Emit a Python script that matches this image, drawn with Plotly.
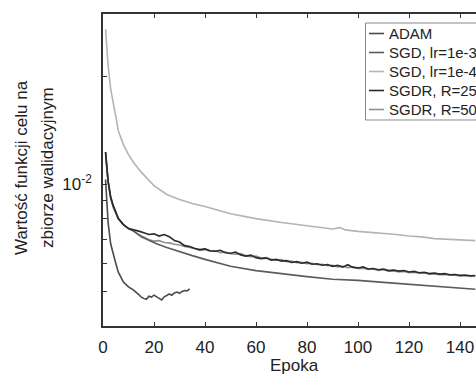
import plotly.graph_objects as go

# ---------------- data ----------------
adam_epoch = [1, 2, 3, 4, 5, 6, 7, 8, 10, 12, 14, 15, 16, 17, 18, 19, 20, 21, 22, 23,
              24, 25, 26, 27, 28, 29, 30, 31, 32, 33, 34]
adam_loss = [0.0103, 0.0078, 0.0068, 0.00632, 0.0060, 0.00566, 0.00545, 0.00531, 0.00515,
             0.00504, 0.00490, 0.00482, 0.00478, 0.00475, 0.00485, 0.00482, 0.00488, 0.00484,
             0.00478, 0.00473, 0.00483, 0.00487, 0.00492, 0.00488, 0.00495, 0.00498, 0.00494,
             0.00500, 0.00503, 0.00502, 0.00508]

sgd3_epoch = [1, 2, 3, 4, 6, 8, 10, 12, 15, 18, 21, 25, 30, 35, 40, 50, 60, 70, 80, 90,
              100, 110, 120, 130, 140, 146]
sgd3_loss = [0.0123, 0.0102, 0.0092, 0.0087, 0.0080, 0.0077, 0.0075, 0.00738, 0.00712,
             0.00695, 0.00680, 0.00664, 0.00646, 0.00630, 0.00615, 0.00588, 0.00572, 0.00560,
             0.00550, 0.00541, 0.00537, 0.00530, 0.00524, 0.00517, 0.00510, 0.00507]

sgd4_epoch = [1, 2, 3, 4, 5, 6, 8, 10, 12, 15, 20, 25, 30, 35, 40, 50, 60, 70, 80, 85,
              90, 93, 95, 100, 105, 110, 115, 120, 125, 130, 135, 140, 146]
sgd4_loss = [0.0272, 0.0215, 0.0185, 0.0167, 0.0155, 0.0141, 0.0129, 0.0121, 0.0115, 0.0108,
             0.00990, 0.00935, 0.00905, 0.00882, 0.00865, 0.00826, 0.00800, 0.00780, 0.00762,
             0.00756, 0.00748, 0.00755, 0.00744, 0.00737, 0.00733, 0.00726, 0.00722, 0.00715,
             0.00711, 0.00703, 0.00701, 0.00697, 0.00694]

sgdr_epoch = [1, 2, 3, 4, 6, 8, 10, 12, 14, 16, 18, 20, 22, 24, 26, 28, 30, 32, 34, 36,
              38, 40, 42, 44, 46, 48, 50, 52, 54, 56, 58, 60, 62, 64, 66, 68, 70, 72, 74,
              76, 78, 80, 82, 84, 86, 88, 90, 92, 94, 96, 98, 100, 102, 104, 106, 108, 110,
              112, 114, 116, 118, 120, 122, 124, 126, 128, 130, 132, 134, 136, 138, 140,
              142, 144, 146]
sgdr25_loss = [0.0123, 0.0102, 0.0092, 0.0087, 0.0080, 0.0077, 0.0075, 0.00745, 0.00738,
               0.00730, 0.00722, 0.00725, 0.00715, 0.00722, 0.00712, 0.00695, 0.00688,
               0.00672, 0.00668, 0.00660, 0.00655, 0.00658, 0.00650, 0.00648, 0.00652,
               0.00642, 0.00640, 0.00645, 0.00633, 0.00628, 0.00632, 0.00622, 0.00618,
               0.00620, 0.00612, 0.00615, 0.00608, 0.00610, 0.00603, 0.00606, 0.00600,
               0.00604, 0.00596, 0.00598, 0.00592, 0.00595, 0.00588, 0.00592, 0.00585,
               0.00594, 0.00584, 0.00582, 0.00586, 0.00578, 0.00580, 0.00575, 0.00578,
               0.00572, 0.00574, 0.00570, 0.00572, 0.00567, 0.00569, 0.00564, 0.00566,
               0.00561, 0.00563, 0.00559, 0.00561, 0.00557, 0.00558, 0.00555, 0.00556,
               0.00553, 0.00554]
sgdr50_loss = [0.0121, 0.0101, 0.0091, 0.0086, 0.0080, 0.0077, 0.0075, 0.00738, 0.00722,
               0.00708, 0.00698, 0.00692, 0.00694, 0.00686, 0.00684, 0.00678, 0.00675,
               0.00668, 0.00664, 0.00660, 0.00652, 0.00655, 0.00648, 0.00650, 0.00642,
               0.00645, 0.00638, 0.00636, 0.00638, 0.00630, 0.00626, 0.00628, 0.00620,
               0.00622, 0.00615, 0.00612, 0.00614, 0.00606, 0.00608, 0.00602, 0.00603,
               0.00598, 0.00600, 0.00594, 0.00596, 0.00590, 0.00592, 0.00586, 0.00588,
               0.00583, 0.00586, 0.00580, 0.00581, 0.00576, 0.00578, 0.00573, 0.00575,
               0.00570, 0.00571, 0.00567, 0.00569, 0.00564, 0.00566, 0.00562, 0.00563,
               0.00559, 0.00560, 0.00557, 0.00558, 0.00555, 0.00556, 0.00552, 0.00553,
               0.00551, 0.00552]

series_names = ["ADAM", "SGD, lr=1e-3", "SGD, lr=1e-4", "SGDR, R=25", "SGDR, R=50"]
series_colors = ["#4a4a4a", "#5c5c5c", "#b4b4b4", "#2a2a2a", "#909090"]

x_tick_vals = [0, 20, 40, 60, 80, 100, 120, 140]
x_tick_text = ["0", "20", "40", "60", "80", "100", "120", "140"]
y_tick_vals = [0.01]
y_tick_text = ["10<sup>-2</sup>"]
y_minor_vals = [0.005, 0.006, 0.007, 0.008, 0.009, 0.02]

x_title = "Epoka"
y_title_lines = ["Wartość funkcji celu na", "zbiorze walidacyjnym"]

# ---------------- figure ----------------
W, H = 476, 374
L, R, T, B = 103, 0, 14, 48
PW, PH = W - L - R, H - T - B


def px(xp):
    return (xp - L) / PW


def py(yp):
    return (H - B - yp) / PH


FONT = "Liberation Sans, Arial, sans-serif"
TXT = "#222222"

fig = go.Figure()
order = [(sgd4_epoch, sgd4_loss, 2), (sgdr_epoch, sgdr50_loss, 4), (sgd3_epoch, sgd3_loss, 1),
         (sgdr_epoch, sgdr25_loss, 3), (adam_epoch, adam_loss, 0)]
for xs, ys, i in order:
    fig.add_trace(go.Scatter(x=xs, y=ys, mode="lines", name=series_names[i],
                             line=dict(color=series_colors[i], width=1.6),
                             showlegend=False, hoverinfo="skip"))

fig.update_layout(
    width=W, height=H,
    margin=dict(l=L, r=R, t=T, b=B),
    paper_bgcolor="white", plot_bgcolor="white",
    font=dict(family=FONT, size=17, color=TXT),
    showlegend=False,
)
fig.update_xaxes(range=[0, (W - L) / 2.55], tickvals=x_tick_vals, ticktext=x_tick_text,
                 ticks="inside", ticklen=4, tickwidth=1.2, tickcolor="#333",
                 showline=True, linecolor="#333", linewidth=1.6, mirror="ticks",
                 showgrid=False, zeroline=False, ticklabelstandoff=5,
                 tickfont=dict(size=17, family=FONT, color=TXT))
fig.update_yaxes(type="log", range=[-2.398, -1.523], tickvals=y_tick_vals, ticktext=y_tick_text,
                 ticks="inside", ticklen=4, tickwidth=1.2, tickcolor="#333",
                 minor=dict(tickmode="array", tickvals=y_minor_vals, ticks="inside",
                            ticklen=4, tickwidth=1.2, tickcolor="#333", showgrid=False),
                 showline=True, linecolor="#333", linewidth=1.6, mirror=False,
                 showgrid=False, zeroline=False, ticklabelstandoff=6,
                 tickfont=dict(size=17, family=FONT, color=TXT))

ann = []
ann.append(dict(text=x_title, x=px(294), y=py(365), xref="paper", yref="paper",
                xanchor="center", yanchor="middle", showarrow=False,
                font=dict(size=17, family=FONT, color=TXT)))
for xc, line in zip([21, 47], y_title_lines):
    ann.append(dict(text=line, x=px(xc), y=py(168), xref="paper", yref="paper",
                    xanchor="center", yanchor="middle", textangle=-90, showarrow=False,
                    font=dict(size=17, family=FONT, color=TXT)))

# manual legend (matches the short sample lines of the original)
shapes = [dict(type="rect", xref="paper", yref="paper", x0=px(365.5), x1=px(495),
               y0=py(120), y1=py(23), line=dict(color="#888", width=1), fillcolor="white",
               layer="above")]
leg_y = [33.5, 52.5, 71.5, 90.5, 109.5]
for i, yy in enumerate(leg_y):
    shapes.append(dict(type="line", xref="paper", yref="paper", x0=px(369), x1=px(384),
                       y0=py(yy), y1=py(yy), line=dict(color=series_colors[i], width=1.6),
                       layer="above"))
    ann.append(dict(text=series_names[i], x=px(387), y=py(yy), xref="paper", yref="paper",
                    xanchor="left", yanchor="middle", showarrow=False,
                    font=dict(size=15, family=FONT, color=TXT)))

fig.update_layout(annotations=ann, shapes=shapes)
fig.write_html("out.html", config={"displayModeBar": False},
               post_script="document.body.style.margin='0';document.body.style.overflow='hidden';")
